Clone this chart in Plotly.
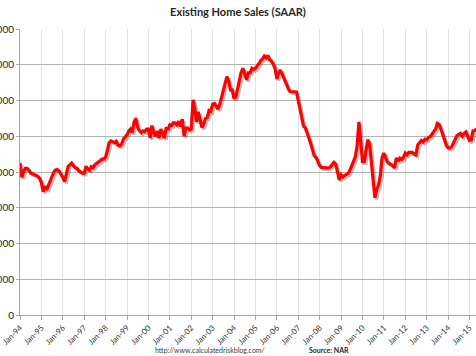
import pandas as pd
import plotly.graph_objects as go

# Existing home sales, SAAR, millions of units (monthly, Jan-1994 onward)
sales_1994_1998 = [
    4.25, 3.85, 4.00, 4.10, 4.10, 4.05, 3.97, 3.95, 3.92, 3.90, 3.88, 3.82,
    3.70, 3.45, 3.60, 3.50, 3.62, 3.78, 3.90, 4.00, 4.06, 4.07, 4.02, 3.95,
    3.85, 3.73, 3.95, 4.15, 4.20, 4.25, 4.18, 4.12, 4.10, 4.03, 4.00, 3.97,
    3.97, 4.16, 4.08, 4.05, 4.15, 4.12, 4.20, 4.24, 4.28, 4.32, 4.36, 4.36,
    4.42, 4.60, 4.82, 4.87, 4.84, 4.82, 4.86, 4.75, 4.73, 4.78, 4.92, 4.98,
]
sales_1999_2003 = [
    5.04, 5.15, 5.20, 5.10, 5.40, 5.50, 5.25, 5.15, 5.10, 5.15, 5.13, 5.20,
    5.20, 4.95, 5.30, 5.10, 5.00, 5.15, 4.95, 5.20, 5.05, 4.95, 5.25, 5.18,
    5.32, 5.30, 5.38, 5.37, 5.32, 5.42, 5.27, 5.48, 5.00, 5.23, 5.23, 5.18,
    5.20, 6.02, 5.80, 5.40, 5.68, 5.50, 5.25, 5.33, 5.50, 5.52, 5.72, 5.70,
    5.90, 5.92, 5.82, 5.76, 5.88, 6.08, 6.25, 6.39, 6.67, 6.55, 6.30, 6.30,
]
sales_2004_2008 = [
    6.05, 6.10, 6.35, 6.60, 6.78, 6.90, 6.70, 6.58, 6.77, 6.77, 6.90, 6.87,
    6.90, 6.96, 7.03, 7.12, 7.16, 7.24, 7.19, 7.26, 7.14, 7.10, 7.02, 6.90,
    6.60, 6.77, 6.85, 6.74, 6.62, 6.50, 6.35, 6.27, 6.25, 6.25, 6.25, 6.24,
    6.00, 5.75, 5.55, 5.28, 5.24, 5.12, 4.95, 4.80, 4.62, 4.45, 4.41, 4.30,
    4.18, 4.13, 4.12, 4.12, 4.11, 4.11, 4.14, 4.20, 4.27, 4.22, 3.95, 3.78,
]
sales_2009_2015 = [
    3.92, 3.86, 3.90, 3.93, 3.96, 4.05, 4.20, 4.30, 4.43, 4.72, 5.40, 4.95,
    4.29, 4.29, 4.60, 4.90, 4.80, 4.30, 3.65, 3.28, 3.52, 3.62, 3.90, 4.40,
    4.53, 4.38, 4.28, 4.24, 4.20, 4.18, 4.11, 4.39, 4.30, 4.39, 4.35, 4.40,
    4.53, 4.48, 4.55, 4.55, 4.55, 4.50, 4.48, 4.76, 4.82, 4.88, 4.84, 4.92,
    4.90, 4.97, 4.99, 5.06, 5.10, 5.20, 5.36, 5.33, 5.20, 5.05, 4.87, 4.75,
    4.68, 4.67, 4.70, 4.80, 4.92, 5.02, 5.05, 5.08, 5.00, 5.08, 5.12, 4.98,
    4.88, 4.90, 5.15, 5.16, 5.20,
]
sales = sales_1994_1998 + sales_1999_2003 + sales_2004_2008 + sales_2009_2015
months = pd.date_range("1994-01-01", periods=len(sales), freq="MS")

y_ticks = [0, 1, 2, 3, 4, 5, 6, 7, 8]
y_tick_labels = ["0", "1,000,000", "2,000,000", "3,000,000", "4,000,000",
                 "5,000,000", "6,000,000", "7,000,000", "8,000,000"]
x_ticks = pd.date_range("1994-01-01", "2015-01-01", freq="YS")
x_tick_labels = [d.strftime("%b-%y") for d in x_ticks]

title_text = "Existing Home Sales (SAAR)"
url_text = "http://www.calculatedriskblog.com/"
source_text = "Source: NAR"

FONT = "Lato, 'Open Sans', sans-serif"
x_range = [pd.Timestamp("1994-01-01"), pd.Timestamp("2015-04-22")]
y_range = [0, 8]

# shadow offset (a couple of pixels down-right)
shift_days = pd.Timedelta(days=30)
shift_y = 0.05

fig = go.Figure()
# invisible anchor trace for the main axes
fig.add_trace(go.Scatter(x=months, y=sales, mode="lines", line=dict(width=0),
                         hoverinfo="skip", showlegend=False, opacity=0))
fig.add_trace(go.Scatter(x=months, y=sales, mode="lines", xaxis="x2", yaxis="y2",
                         line=dict(color="rgba(60,60,60,0.35)", width=3.2),
                         hoverinfo="skip", showlegend=False))
fig.add_trace(go.Scatter(x=months, y=sales, mode="lines", xaxis="x3", yaxis="y3",
                         line=dict(color="#ff0000", width=3.2),
                         showlegend=False))

fig.update_layout(
    width=476, height=356,
    margin=dict(l=20, r=0, t=29, b=41, autoexpand=False),
    paper_bgcolor="white", plot_bgcolor="white",
    font=dict(family=FONT, color="#404040"),
    title=dict(text="<b>" + title_text + "</b>", x=0.5, xanchor="center",
               y=1 - 12 / 356, yanchor="middle", yref="container",
               font=dict(size=11, color="#262626", family=FONT)),
    xaxis=dict(range=x_range, tickvals=x_ticks, ticktext=x_tick_labels,
               tickangle=-45, tickfont=dict(size=8, color="#333333"),
               showgrid=True, gridcolor="#e3e3e3", gridwidth=1,
               showline=True, linecolor="#a6a6a6", linewidth=1,
               ticks="outside", ticklen=4, tickcolor="#a6a6a6",
               zeroline=False, fixedrange=True, automargin=False),
    yaxis=dict(range=y_range, tickvals=y_ticks, ticktext=y_tick_labels,
               tickfont=dict(size=10, color="#262626"),
               showgrid=True, gridcolor="#b3b3b3", gridwidth=1,
               showline=True, linecolor="#a6a6a6", linewidth=1,
               ticks="outside", ticklen=3, tickcolor="#a6a6a6",
               zeroline=False, fixedrange=True, automargin=False),
    xaxis2=dict(overlaying="x", visible=False,
                range=[x_range[0] - shift_days, x_range[1] - shift_days]),
    yaxis2=dict(overlaying="y", visible=False,
                range=[y_range[0] + shift_y, y_range[1] + shift_y]),
    xaxis3=dict(overlaying="x", visible=False, range=x_range),
    yaxis3=dict(overlaying="y", visible=False, range=y_range),
)

plot_h = 356 - 29 - 41
foot_y = -(350 - 315) / plot_h
fig.add_annotation(text="<span style='color:#404040'>" + url_text + "</span>",
                   xref="paper", yref="paper",
                   x=(210 - 20) / 456, y=foot_y, xanchor="center", yanchor="middle",
                   showarrow=False, font=dict(size=7, color="#404040", family=FONT))
fig.add_annotation(text="<b>" + source_text + "</b>", xref="paper", yref="paper",
                   x=(329 - 20) / 456, y=foot_y, xanchor="center", yanchor="middle",
                   showarrow=False, font=dict(size=7, color="#262626", family=FONT))

fig.write_html(
    "out.html",
    config={"displayModeBar": False},
    post_script="document.body.style.margin='0';document.body.style.overflow='hidden';",
)
